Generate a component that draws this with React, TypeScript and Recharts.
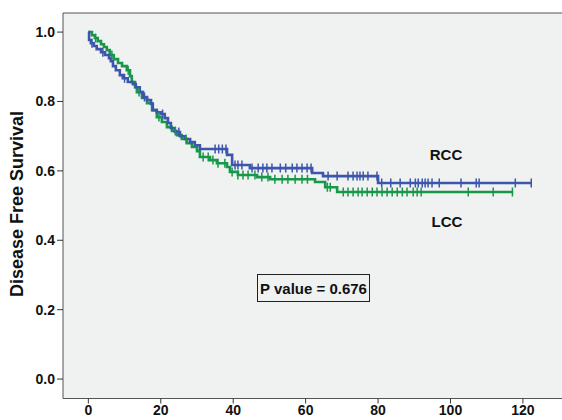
import { ComposedChart, Line, Scatter, XAxis, YAxis, ReferenceArea } from "recharts";

// Kaplan-Meier steps (time in months, survival)
const rccTime = [0, 0.2, 0.7, 1.5, 2.3, 3.5, 4.6, 5.7, 6.2, 6.8, 7.6, 8.7, 9.5, 10.9, 12.3, 13.1, 14.2, 15.1, 16.2, 17.3, 17.8, 18.9, 20.0, 21.1, 22.0, 22.8, 23.9, 25.3, 26.7, 28.1, 29.4, 30.8, 38.3, 39.7, 44.6, 61.8, 64.8, 80.0, 122.3];
const rccSurv = [1.0, 0.977, 0.968, 0.96, 0.951, 0.942, 0.934, 0.925, 0.916, 0.902, 0.89, 0.876, 0.867, 0.856, 0.85, 0.841, 0.827, 0.813, 0.804, 0.793, 0.775, 0.769, 0.764, 0.752, 0.738, 0.723, 0.712, 0.7, 0.692, 0.683, 0.674, 0.663, 0.646, 0.617, 0.608, 0.594, 0.585, 0.565, 0.565];
const rccCensor = [1.0, 4.0, 10.0, 15.5, 20.5, 25.0, 35.0, 36.0, 37.0, 38.0, 40.5, 41.3, 42.4, 45.2, 46.9, 48.2, 49.3, 50.7, 53.0, 54.5, 56.3, 57.6, 59.0, 60.4, 61.5, 66.2, 68.7, 71.7, 73.1, 74.2, 75.0, 75.9, 77.2, 79.7, 81.0, 83.5, 86.1, 88.9, 90.3, 91.1, 92.2, 93.0, 93.8, 94.9, 96.9, 102.9, 107.1, 107.9, 117.9, 122.3];

const lccTime = [0, 1.0, 1.8, 2.6, 3.5, 4.3, 5.1, 5.9, 7.0, 8.2, 9.3, 10.6, 11.5, 12.0, 12.9, 13.4, 14.8, 16.2, 17.6, 18.9, 20.3, 21.7, 23.1, 24.5, 25.8, 27.2, 28.6, 30.0, 30.8, 33.6, 35.5, 38.3, 39.1, 41.3, 46.6, 50.2, 62.6, 65.4, 68.7, 117.3];
const lccSurv = [1.0, 0.991, 0.983, 0.974, 0.965, 0.957, 0.948, 0.934, 0.922, 0.911, 0.902, 0.89, 0.873, 0.856, 0.841, 0.827, 0.81, 0.795, 0.775, 0.755, 0.741, 0.726, 0.715, 0.703, 0.692, 0.68, 0.669, 0.657, 0.64, 0.631, 0.622, 0.611, 0.597, 0.588, 0.582, 0.576, 0.568, 0.553, 0.539, 0.539];
const lccCensor = [2.0, 6.5, 11.0, 14.0, 19.5, 24.0, 27.0, 31.7, 33.1, 34.4, 35.8, 37.7, 39.7, 41.3, 42.7, 44.1, 46.0, 47.9, 49.6, 51.5, 53.5, 55.1, 57.1, 59.0, 60.5, 66.0, 66.8, 70.4, 71.7, 73.1, 74.5, 75.6, 77.0, 78.4, 79.7, 81.1, 82.5, 83.9, 85.3, 86.7, 88.0, 89.7, 90.8, 91.9, 104.9, 111.8, 117.1];

const xTicks = [0, 20, 40, 60, 80, 100, 120];
const yTicks = [0, 0.2, 0.4, 0.6, 0.8, 1.0];

const BLUE = "#3c56ad";
const GREEN = "#18974a";
const FONT = "'Liberation Sans', Arial, sans-serif";

const steps = (times: number[], surv: number[]) => times.map((t, i) => ({ t, s: surv[i] }));

// survival value of the step curve at time t
const survAt = (times: number[], surv: number[], t: number) => {
    let v = surv[0];
    for (let i = 0; i < times.length; i++) {
        if (times[i] <= t) v = surv[i];
    }
    return v;
};

const censors = (times: number[], surv: number[], cens: number[]) =>
    cens.map((t) => ({ t, s: survAt(times, surv, t) }));

const rccLine = steps(rccTime, rccSurv);
const lccLine = steps(lccTime, lccSurv);
const rccMarks = censors(rccTime, rccSurv, rccCensor);
const lccMarks = censors(lccTime, lccSurv, lccCensor);

const tickMark = (color: string) => (props: any) => {
    const { cx, cy } = props;
    return <line x1={cx} x2={cx} y1={cy - 4.5} y2={cy + 4.5} stroke={color} strokeWidth={1.5} />;
};

const tickStyle = { fill: "#111", fontSize: 14, fontWeight: 700, fontFamily: FONT };

export default function App() {
    return (
        <div style={{ position: "absolute", left: 0, top: 0, width: 562, height: 420, overflow: "hidden", background: "#fff", fontFamily: FONT }}>
            <ComposedChart width={570} height={420} margin={{ top: 13, right: 0, bottom: 0, left: 0 }}>
                <XAxis
                    dataKey="t"
                    type="number"
                    domain={[-7, 133]}
                    allowDataOverflow
                    ticks={xTicks}
                    axisLine={false}
                    tickSize={5}
                    tickLine={{ stroke: "#333" }}
                    tick={tickStyle}
                    height={21.5}
                />
                <YAxis
                    dataKey="s"
                    type="number"
                    domain={[-0.056, 1.055]}
                    allowDataOverflow
                    ticks={yTicks}
                    tickFormatter={(v: number) => v.toFixed(1)}
                    axisLine={false}
                    tickSize={6}
                    tickLine={{ stroke: "#333" }}
                    tick={tickStyle}
                    width={63}
                />
                <ReferenceArea x1={-7} x2={133} y1={-0.056} y2={1.055} fill="#f0f1f1" fillOpacity={1} stroke="#555" strokeWidth={1} />
                <Line data={lccLine} dataKey="s" type="stepAfter" stroke={GREEN} strokeWidth={2.6} dot={false} isAnimationActive={false} />
                <Line data={rccLine} dataKey="s" type="stepAfter" stroke={BLUE} strokeWidth={2.6} dot={false} isAnimationActive={false} />
                <Scatter data={lccMarks} dataKey="s" shape={tickMark(GREEN)} isAnimationActive={false} />
                <Scatter data={rccMarks} dataKey="s" shape={tickMark(BLUE)} isAnimationActive={false} />
            </ComposedChart>
            <div style={{ position: "absolute", left: 17, top: 204, transform: "translate(-50%, -50%) rotate(-90deg)", whiteSpace: "nowrap", fontSize: 18, fontWeight: 700, color: "#111" }}>
                Disease Free Survival
            </div>
            <div style={{ position: "absolute", left: 446, top: 154, transform: "translate(-50%, -50%)", fontSize: 15, fontWeight: 700, color: "#111" }}>RCC</div>
            <div style={{ position: "absolute", left: 447, top: 221, transform: "translate(-50%, -50%)", fontSize: 15, fontWeight: 700, color: "#111" }}>LCC</div>
            <div style={{ position: "absolute", left: 257, top: 274, width: 111, height: 26, border: "1px solid #222", display: "flex", alignItems: "center", justifyContent: "center", fontSize: 15, fontWeight: 700, color: "#111", whiteSpace: "nowrap" }}>
                P value = 0.676
            </div>
        </div>
    );
}
